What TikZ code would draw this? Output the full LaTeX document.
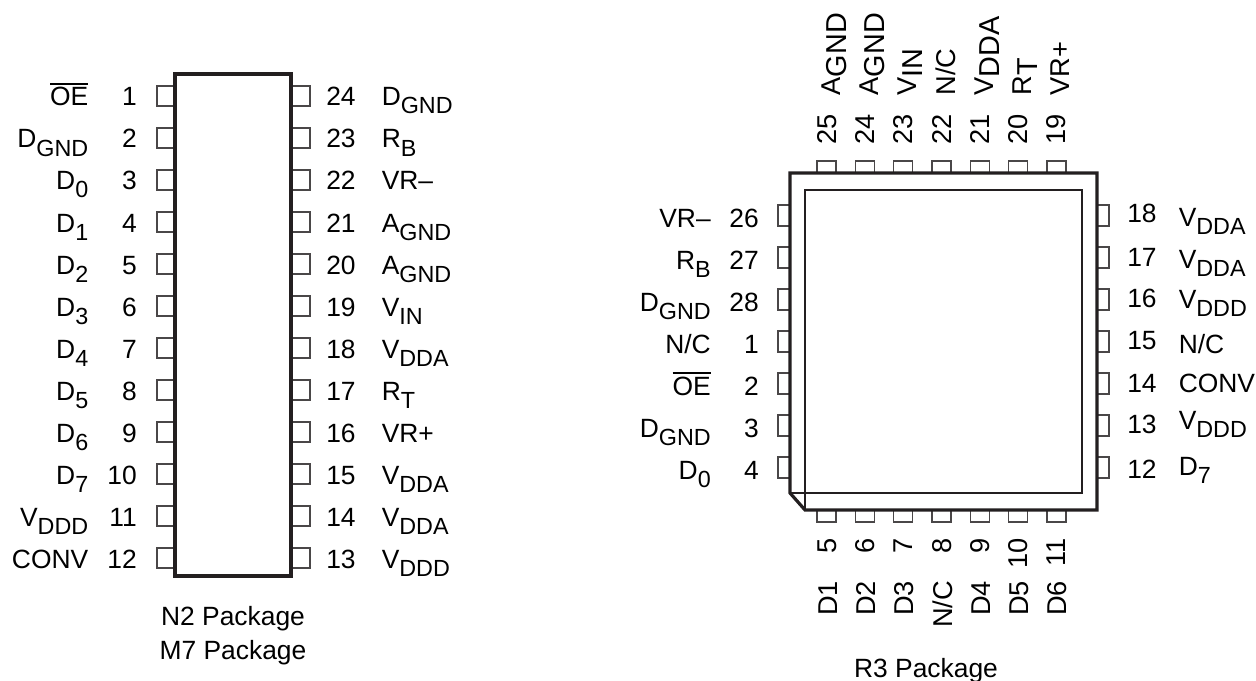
\documentclass[tikz,border=0pt]{standalone}
\usepackage{fontspec}
\setmainfont{Liberation Sans}
\newcommand{\lab}[2]{#1\raisebox{-6pt}{\fontsize{17.5}{18}\selectfont #2}}
\newcommand{\rlab}[2]{#1\raisebox{-4.5pt}{\fontsize{21.6}{22}\selectfont #2}}
\newcommand{\ovl}[1]{\vbox{\hrule height 1.1pt\kern 2.2pt\hbox{#1}}}
\definecolor{ink}{HTML}{231F20}
\definecolor{pin}{HTML}{4A4748}
\tikzset{
 x=0.75pt,y=-0.75pt,
 txt/.style={inner sep=0pt,font=\fontsize{19.8}{22}\selectfont},
 rtxt/.style={inner sep=0pt,rotate=90,font=\fontsize{20.4}{22}\selectfont},
 pkg/.style={draw=ink,line width=2.4pt,line join=miter,fill=white},
 inner/.style={draw=ink,line width=1.1pt},
 pinbox/.style={draw=pin,line width=1.1pt,fill=white},
}
\begin{document}
\begin{tikzpicture}
\useasboundingbox (0,0) rectangle (1256,681);
% left package pins
\foreach \i in {0,...,11}{
 \draw[pinbox] (157,{86+42*\i}) rectangle (175,{106+42*\i});
 \draw[pinbox] (291,{86+42*\i}) rectangle (310,{106+42*\i});
}
\draw[pkg] (175,74) rectangle (291,576);
% left package numbers and labels
\foreach \i/\n/\t in {0/1/{\ovl{OE}},1/2/{\lab{D}{GND}},2/3/{\lab{D}{0}},3/4/{\lab{D}{1}},4/5/{\lab{D}{2}},5/6/{\lab{D}{3}},6/7/{\lab{D}{4}},7/8/{\lab{D}{5}},8/9/{\lab{D}{6}},9/10/{\lab{D}{7}},10/11/{\lab{V}{DDD}},11/12/{CONV}}{
 \node[txt,anchor=base east] (ln\n) at (137,{106+42*\i}) {\n};
 \node[txt,anchor=base east] (ll\n) at (88.5,{106+42*\i}) {\t};
}
\foreach \i/\n/\t in {0/24/{\lab{D}{GND}},1/23/{\lab{R}{B}},2/22/{VR–},3/21/{\lab{A}{GND}},4/20/{\lab{A}{GND}},5/19/{\lab{V}{IN}},6/18/{\lab{V}{DDA}},7/17/{\lab{R}{T}},8/16/{VR+},9/15/{\lab{V}{DDA}},10/14/{\lab{V}{DDA}},11/13/{\lab{V}{DDD}}}{
 \node[txt,anchor=base west] (rn\n) at (326,{106+42*\i}) {\n};
 \node[txt,anchor=base west] (rl\n) at (381.5,{106+42*\i}) {\t};
}
\node[txt,anchor=base] (cap1) at (233,625) {N2 Package};
\node[txt,anchor=base] (cap2) at (233,659) {M7 Package};
% right package pins
\foreach \i in {0,...,6}{
 \draw[pinbox] ({817+38.33*\i},161) rectangle ({836+38.33*\i},173);
 \draw[pinbox] ({817+38.33*\i},510) rectangle ({836+38.33*\i},522);
 \draw[pinbox] (778,{205+42*\i}) rectangle (790,{226+42*\i});
 \draw[pinbox] (1097,{205+42*\i}) rectangle (1109,{226+42*\i});
}
\draw[pkg] (790,173) -- (1097,173) -- (1097,510) -- (805,510) -- (790,493) -- cycle;
\draw[inner] (805,510) -- (805,190) -- (1082,190) -- (1082,493) -- (790,493);
% top
\foreach \i/\n/\t in {0/25/{\rlab{A}{GND}},1/24/{\rlab{A}{GND}},2/23/{\rlab{V}{IN}},3/22/{N/C},4/21/{\rlab{V}{DDA}},5/20/{\rlab{R}{T}},6/19/{VR+}}{
 \node[rtxt,anchor=base west] (tn\n) at ({836+38.33*\i},145) {\n};
 \node[rtxt,anchor=base west] (tl\n) at ({840+38.33*\i},95.5) {\t};
}
% bottom
\foreach \i/\n/\t/\yy in {0/5/D1/616,1/6/D2/616,2/7/D3/616,3/8/{N/C}/628,4/9/D4/616,5/10/D5/616,6/11/D6/616}{
 \node[rtxt,anchor=base east] (bn\n) at ({836+38.33*\i},538) {\n};
 \node[rtxt,anchor=base west] (bl\n) at ({837+38.33*\i},\yy) {\t};
}
% left side
\foreach \n/\t/\b in {26/{VR–}/228,27/{\lab{R}{B}}/269,28/{\lab{D}{GND}}/311,1/{N/C}/353,2/{\ovl{OE}}/395,3/{\lab{D}{GND}}/437,4/{\lab{D}{0}}/479}{
 \node[txt,anchor=base east] (sn\n) at (759,\b) {\n};
 \node[txt,anchor=base east] (sl\n) at (711,\b) {\t};
}
% right side
\foreach \n/\t/\b/\c in {18/{\lab{V}{DDA}}/223/226,17/{\lab{V}{DDA}}/266/268,16/{\lab{V}{DDD}}/307/308,15/{N/C}/349/353,14/{CONV}/392/392,13/{\lab{V}{DDD}}/433/429,12/{\lab{D}{7}}/478/475}{
 \node[txt,anchor=base west] (en\n) at (1127,\b) {\n};
 \node[txt,anchor=base west] (el\n) at (1178.5,\c) {\t};
}
\node[txt,anchor=base] (cap3) at (926,677) {R3 Package};
\end{tikzpicture}
\end{document}
